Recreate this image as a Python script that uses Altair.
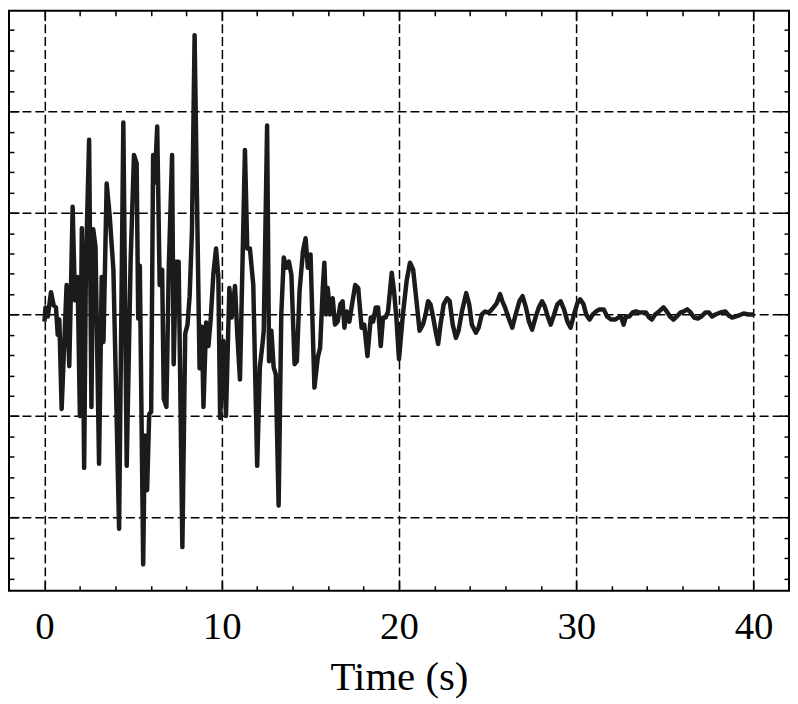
import altair as alt
import pandas as pd

# Time (s) and ground acceleration (grid units)
time_s = [
    0.0, 0.06, 0.19, 0.37, 0.52, 0.65, 0.75, 0.84, 0.97, 1.12, 1.25, 1.40, 1.50, 1.59, 1.72, 1.87,
    2.00, 2.11, 2.24, 2.34, 2.52, 2.65, 2.75, 2.88, 3.08, 3.23, 3.33, 3.51, 3.68, 3.89, 4.21, 4.45,
    4.64, 4.86, 5.05, 5.20, 5.29, 5.38, 5.57, 5.66, 5.79, 5.91, 6.02, 6.13, 6.22, 6.36, 6.50, 6.64,
    6.73, 6.88, 7.01, 7.20, 7.29, 7.42, 7.57, 7.78, 7.94, 8.07, 8.19, 8.32, 8.47, 8.60, 8.75, 8.88,
    8.97, 9.12, 9.25, 9.38, 9.53, 9.68, 9.81, 9.91,
    10.09, 10.24, 10.43, 10.56, 10.75, 10.88, 11.03, 11.31, 11.44, 11.59, 11.78, 12.00, 12.15, 12.30,
    12.37, 12.56, 12.67, 12.80, 12.93, 13.05, 13.21, 13.36, 13.50, 13.64, 13.79, 13.93, 14.11, 14.24,
    14.39, 14.58, 14.73, 14.86, 15.01, 15.23, 15.42, 15.55, 15.70, 15.79, 15.89, 15.98, 16.11, 16.26,
    16.39, 16.54, 16.69, 16.82, 16.92, 17.05, 17.20, 17.35, 17.53, 17.70, 17.89, 18.04, 18.22, 18.41,
    18.54, 18.69, 18.82, 18.97, 19.10, 19.25, 19.38, 19.59, 19.72, 19.85, 20.00,
    20.22, 20.43, 20.62, 20.80, 20.97, 21.16, 21.35, 21.50, 21.64, 21.78, 21.93, 22.06, 22.21, 22.34,
    22.52, 22.71, 22.86, 23.03, 23.21, 23.36, 23.55, 23.79, 23.96, 24.11, 24.34, 24.49, 24.67, 24.86,
    24.99, 25.14, 25.33, 25.51, 25.70, 25.83, 25.98, 26.17, 26.39, 26.58, 26.79, 26.97, 27.16, 27.33,
    27.51, 27.70, 27.89, 28.07, 28.22, 28.41, 28.56, 28.75, 28.93, 29.12, 29.31, 29.50, 29.68, 29.87,
    30.06, 30.22, 30.41, 30.56, 30.75, 30.93, 31.12, 31.31, 31.55, 31.74, 31.96, 32.19, 32.37, 32.52,
    32.67, 32.80, 32.99, 33.18, 33.36, 33.55, 33.74, 33.93, 34.11, 34.26, 34.45, 34.67, 34.92, 35.10,
    35.29, 35.48, 35.66, 35.89, 36.07, 36.26, 36.45, 36.64, 36.86, 37.05, 37.29, 37.48, 37.66, 37.85,
    38.13, 38.41, 38.60, 38.79, 38.97, 39.16, 39.44, 39.72, 40.00,
]
accel = [
    -0.07, 0.07, -0.02, 0.22, 0.09, 0.07, -0.20, -0.05, -0.93, -0.27, 0.29, -0.51, 0.29, 1.06, 0.14, 0.37,
    -1.00, 0.85, -1.51, 0.48, 1.72, -0.91, 0.84, 0.67, -1.47, 0.37, -0.27, 1.29, 0.97, 0.44, -2.11, 1.89,
    -1.49, 0.52, 1.57, 1.49, -0.04, 0.48, -2.46, -1.19, -1.73, -0.98, -0.96, 1.57, 1.30, 1.85, 0.29, 0.44,
    -0.83, -0.91, 0.44, 1.57, -0.49, 0.52, 0.52, -2.29, -0.19, -0.10, 0.18, 0.82, 2.75, 1.19, -0.53, -0.12,
    -0.91, -0.08, -0.31, -0.04, 0.40, 0.65, 0.37, -1.02,
    -0.26, -1.00, 0.26, -0.03, 0.28, -0.20, -0.64, 1.62, 0.65, 0.65, 0.29, -1.49, -0.52, -0.29,
    -0.16, 1.86, -0.46, -0.16, -0.52, -0.59, -1.88, 0.00, 0.56, 0.46, 0.52, 0.39, -0.49, -0.46,
    0.23, 0.62, 0.75, 0.46, 0.59, -0.72, -0.42, -0.33, 0.26, 0.51, 0.00, 0.26, 0.00, 0.16,
    -0.10, -0.07, 0.10, 0.13, -0.13, 0.03, -0.07, 0.10, 0.29, 0.26, -0.13, -0.10, -0.41, -0.03,
    -0.07, 0.07, 0.07, -0.31, -0.03, -0.03, 0.03, 0.41, 0.23, -0.03, -0.44,
    0.00, 0.33, 0.51, 0.44, 0.16, -0.16, -0.10, 0.00, 0.13, 0.10, -0.03, -0.16, -0.29, -0.10,
    0.10, 0.16, 0.13, -0.10, -0.23, -0.16, 0.03, 0.21, 0.10, -0.10, -0.18, -0.13, 0.00, 0.03,
    0.02, 0.03, 0.07, 0.11, 0.20, 0.13, 0.07, -0.03, -0.13, 0.00, 0.13, 0.18, 0.07, -0.07,
    -0.15, -0.03, 0.07, 0.13, 0.08, -0.03, -0.10, 0.00, 0.10, 0.13, 0.05, -0.07, -0.13, 0.00,
    0.11, 0.15, 0.10, 0.00, -0.05, 0.00, 0.03, 0.05, 0.05, -0.02, -0.05, -0.05, -0.03, -0.02,
    -0.10, -0.02, -0.02, 0.02, 0.03, 0.02, 0.02, 0.02, -0.03, -0.05, 0.00, 0.03, 0.07, 0.03,
    -0.02, -0.05, -0.02, 0.02, 0.03, 0.05, 0.02, -0.03, -0.04, -0.02, 0.02, 0.02, -0.02, 0.00,
    0.02, 0.03, -0.01, -0.03, -0.02, -0.01, 0.01, 0.00, 0.00,
]

x_major = [0, 10, 20, 30, 40]
x_minor = [2, 4, 6, 8, 12, 14, 16, 18, 22, 24, 26, 28, 32, 34, 36, 38]
y_major = [-2, -1, 0, 1, 2]
y_minor = [-2.6, -2.4, -2.2, -1.8, -1.6, -1.4, -1.2, -0.8, -0.6, -0.4, -0.2,
           0.2, 0.4, 0.6, 0.8, 1.2, 1.4, 1.6, 1.8, 2.2, 2.4, 2.6, 2.8]
x_domain = [-2, 42]
y_domain = [-2.72, 2.99]

df = pd.DataFrame({"t": time_s, "a": accel})

SERIF = "Liberation Serif"
xscale = alt.Scale(domain=x_domain, nice=False, zero=False)
yscale = alt.Scale(domain=y_domain, nice=False, zero=False)

grid_x = alt.Axis(
    orient="bottom", values=x_major, grid=True, gridDash=[9, 4], gridColor="#000000",
    gridWidth=1.5, gridOpacity=1, ticks=False, domain=False, labelFont=SERIF, labelFontSize=39,
    labelColor="#000000", labelPadding=17, labelFlush=False, title="Time (s)", titleFont=SERIF,
    titleFontSize=41, titleFontWeight="normal", titleColor="#000000", titlePadding=11,
)
grid_y = alt.Axis(
    orient="left", values=y_major, grid=True, gridDash=[9, 4], gridColor="#000000",
    gridWidth=1.5, gridOpacity=1, ticks=False, domain=False, labels=False, title=None,
)

line = alt.Chart(df).mark_line(
    color="#1b1b1b", strokeWidth=4.5, strokeJoin="round"
).encode(
    x=alt.X("t:Q", scale=xscale, axis=grid_x),
    y=alt.Y("a:Q", scale=yscale, axis=grid_y),
)


def tick_layer(xorient, yorient, xvals, yvals, size):
    xa = alt.Axis(orient=xorient, values=xvals, tickSize=size, offset=-size, tickColor="#000000",
                  tickWidth=1.5, labels=False, domain=False, grid=False, title=None)
    ya = alt.Axis(orient=yorient, values=yvals, tickSize=size, offset=-size, tickColor="#000000",
                  tickWidth=1.5, labels=False, domain=False, grid=False, title=None)
    return alt.Chart(df).mark_line(opacity=0).encode(
        x=alt.X("t:Q", scale=xscale, axis=xa),
        y=alt.Y("a:Q", scale=yscale, axis=ya),
    )


chart = alt.layer(
    line,
    tick_layer("bottom", "left", x_minor, y_minor, 5),
    tick_layer("top", "right", x_minor, y_minor, 5),
    tick_layer("bottom", "left", x_major, y_major, 10),
    tick_layer("top", "right", x_major, y_major, 10),
).resolve_axis(
    x="independent", y="independent"
).properties(
    width=784, height=583, padding={"left": 0, "top": 0, "right": 0, "bottom": 0},
    background="white",
).configure_view(stroke="#000000", strokeWidth=2)

chart.save("out.html", embed_options={"renderer": "svg", "actions": False})
